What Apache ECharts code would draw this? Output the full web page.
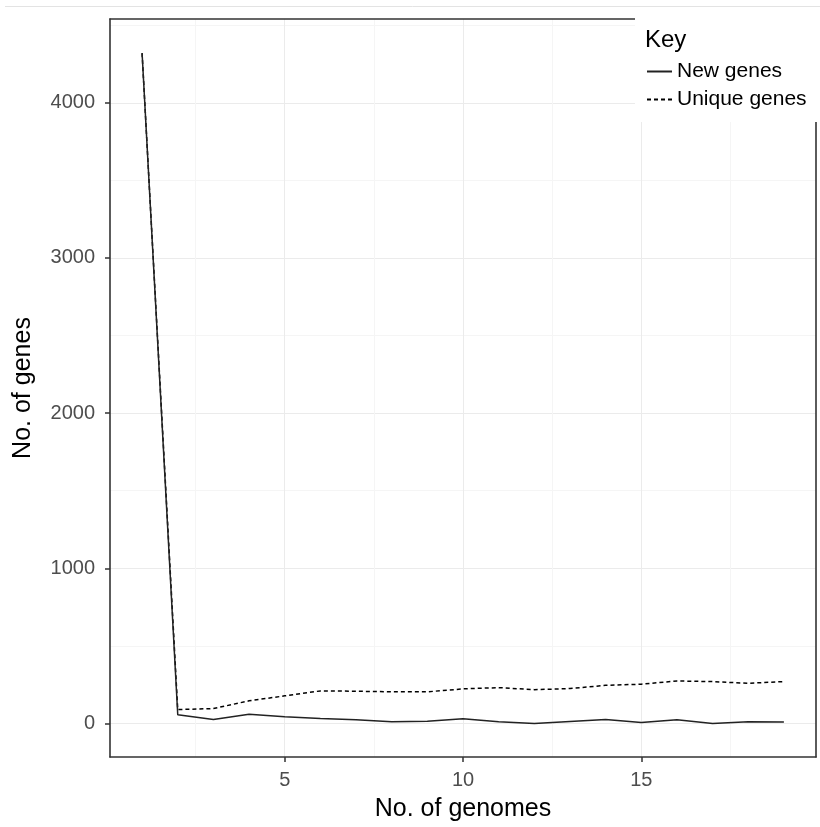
<!DOCTYPE html>
<html>
<head>
<meta charset="utf-8">
<script src="https://cdn.jsdelivr.net/npm/echarts@6/dist/echarts.min.js"></script>
<style>
html,body{margin:0;padding:0;background:#fff}
#chart{width:820px;height:827px}
</style>
</head>
<body>
<div id="chart"></div>
<script>
var genomes = [1,2,3,4,5,6,7,8,9,10,11,12,13,14,15,16,17,18,19];
var newGenes = [4320,56,26,60,43,32,24,11,15,30,11,0,13,26,6,24,0,11,9];
var uniqueGenes = [4320,90,96,146,178,210,208,204,204,223,231,218,225,246,253,274,270,259,270];
var xMajorTicks = [5,10,15];
var xMinorTicks = [2.5,7.5,12.5,17.5];
var yMajorTicks = [0,1000,2000,3000,4000];
var yMinorTicks = [500,1500,2500,3500,4500];

var font = 'Liberation Sans, Arial, sans-serif';
var border = {show:true, onZero:false, lineStyle:{color:'#333333', width:1.6}};

function pairs(vals){
	return genomes.map(function(g,i){ return [g, vals[i]]; });
}
function plain(v){ return String(v); }

var options = {
	animation: false,
	backgroundColor: '#ffffff',
	textStyle: {fontFamily: font},
	grid: {left:110, top:19, right:4, bottom:69},
	title: {
		text: 'Key',
		left: 640, top: 23,
		textStyle: {fontFamily: font, fontSize: 24, fontWeight: 'normal', color: '#000'}
	},
	legend: {
		data: ['New genes','Unique genes'],
		orient: 'vertical',
		left: 635, top: 11,
		padding: [50, 20, 12, 11],
		backgroundColor: '#ffffff',
		itemWidth: 25, itemHeight: 14, itemGap: 7,
		itemStyle: {opacity: 0},
		textStyle: {fontFamily: font, fontSize: 21, color: '#000'}
	},
	graphic: [{
		type: 'line',
		shape: {x1:5, y1:6.5, x2:820, y2:6.5},
		style: {stroke:'#e3e3e3', lineWidth:1}
	}],
	xAxis: [{
		type: 'value', min: 0.1, max: 19.9,
		name: 'No. of genomes', nameLocation: 'middle', nameGap: 40,
		nameTextStyle: {fontFamily: font, fontSize: 25, color: '#000'},
		axisLine: border,
		axisTick: {customValues: xMajorTicks, length: 5, lineStyle:{color:'#333', width:1.5}},
		axisLabel: {customValues: xMajorTicks, formatter: plain, margin: 13, fontFamily: font, fontSize: 20, color: '#4d4d4d'},
		splitLine: {show:true, lineStyle:{color:'#ebebeb', width:1}}
	}, {
		type: 'value', min: 0.1, max: 19.9, position: 'top',
		axisLine: border,
		axisTick: {show:false, customValues: xMinorTicks},
		axisLabel: {show:false, customValues: xMinorTicks},
		splitLine: {show:true, lineStyle:{color:'#f5f5f5', width:1}}
	}],
	yAxis: [{
		type: 'value', min: -216, max: 4540,
		name: 'No. of genes', nameLocation: 'middle', nameGap: 74,
		nameTextStyle: {fontFamily: font, fontSize: 25, color: '#000'},
		axisLine: border,
		axisTick: {show:true, customValues: yMajorTicks, length: 5, lineStyle:{color:'#333', width:1.5}},
		axisLabel: {customValues: yMajorTicks, formatter: plain, margin: 15, fontFamily: font, fontSize: 20, color: '#4d4d4d'},
		splitLine: {show:true, lineStyle:{color:'#ebebeb', width:1}}
	}, {
		type: 'value', min: -216, max: 4540, position: 'right',
		axisLine: border,
		axisTick: {show:false, customValues: yMinorTicks},
		axisLabel: {show:false, customValues: yMinorTicks},
		splitLine: {show:true, lineStyle:{color:'#f5f5f5', width:1}}
	}],
	series: [{
		name: 'Unique genes', type: 'line',
		data: pairs(uniqueGenes),
		symbol: 'none', showSymbol: false,
		lineStyle: {color:'#000', width:1.5, type:[4,3]},
		itemStyle: {color:'#000'}
	}, {
		name: 'New genes', type: 'line',
		data: pairs(newGenes),
		symbol: 'none', showSymbol: false,
		lineStyle: {color:'#222', width:1.5},
		itemStyle: {color:'#222'}
	}]
};

var myChart = echarts.init(document.getElementById('chart'));
myChart.setOption(options);
</script>
</body>
</html>
